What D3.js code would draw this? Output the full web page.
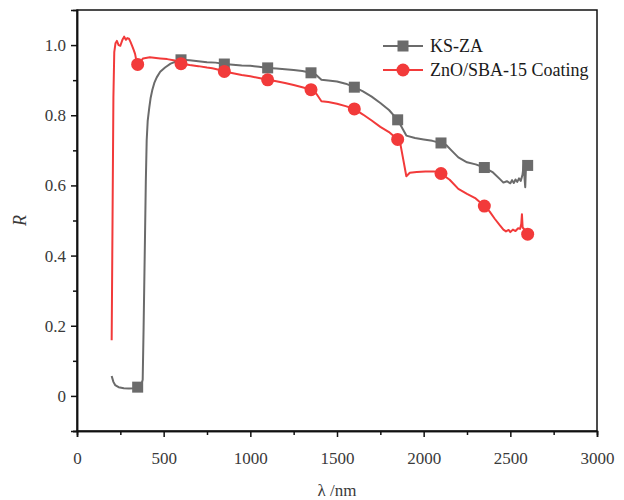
<!DOCTYPE html>
<html>
<head>
<meta charset="utf-8">
<script src="https://cdn.jsdelivr.net/npm/d3@7"></script>
<style>
  html, body { margin: 0; padding: 0; background: #fff; }
  svg { display: block; }
  text { font-family: "Liberation Serif", "DejaVu Serif", serif; }
</style>
</head>
<body>
<svg id="chart" width="624" height="500"></svg>
<script>
// Reflectance spectra (wavelength in nm, reflectance R)
const ksWave = [200,210,220,240,270,300,330,350,370,379,384,392,397,402,408,417,425,434,446,460,480,508,540,575,600,650,700,750,800,850,900,950,1000,1050,1100,1150,1200,1250,1300,1350,1380,1410,1450,1500,1550,1600,1650,1700,1750,1800,1850,1880,1900,1950,2000,2050,2100,2130,2160,2200,2250,2300,2350,2400,2440,2460,2480,2500,2510,2520,2530,2540,2550,2560,2570,2578,2582,2586,2590,2600];
const ksR = [0.057,0.040,0.031,0.025,0.022,0.021,0.022,0.025,0.030,0.046,0.188,0.444,0.610,0.728,0.785,0.822,0.850,0.871,0.892,0.908,0.924,0.936,0.947,0.954,0.958,0.957,0.954,0.951,0.950,0.946,0.944,0.942,0.941,0.938,0.935,0.933,0.931,0.929,0.926,0.921,0.915,0.901,0.899,0.896,0.890,0.880,0.868,0.853,0.835,0.815,0.787,0.760,0.742,0.735,0.731,0.727,0.721,0.715,0.700,0.680,0.666,0.660,0.651,0.637,0.618,0.608,0.612,0.606,0.615,0.607,0.617,0.610,0.620,0.613,0.630,0.660,0.620,0.595,0.650,0.657];

const coatWave = [200,205,210,215,222,230,240,250,262,272,282,290,300,308,318,328,335,340,350,365,381,420,480,520,565,600,650,700,750,780,800,850,900,950,1000,1050,1100,1150,1200,1250,1300,1350,1380,1410,1450,1500,1550,1600,1650,1700,1750,1800,1850,1865,1880,1900,1920,1960,2010,2060,2100,2150,2200,2250,2300,2350,2380,2410,2440,2460,2475,2490,2500,2515,2530,2545,2556,2563,2567,2571,2580,2590,2600];
const coatR = [0.159,0.500,0.850,0.980,1.005,1.012,1.000,0.998,1.015,1.024,1.015,1.020,1.018,1.010,0.998,0.985,0.975,0.962,0.945,0.952,0.962,0.965,0.962,0.960,0.956,0.947,0.943,0.940,0.936,0.934,0.932,0.925,0.920,0.915,0.911,0.906,0.901,0.897,0.892,0.886,0.880,0.873,0.862,0.840,0.838,0.833,0.826,0.818,0.802,0.785,0.767,0.752,0.731,0.720,0.680,0.626,0.636,0.638,0.640,0.640,0.634,0.616,0.590,0.576,0.563,0.541,0.526,0.505,0.486,0.474,0.469,0.473,0.467,0.474,0.470,0.478,0.476,0.490,0.518,0.480,0.475,0.468,0.461];

// Wavelengths carrying a symbol on both curves
const markerWave = [350,600,850,1100,1350,1600,1850,2100,2350,2600];

const seriesNames = ["KS-ZA", "ZnO/SBA-15 Coating"];
const seriesColors = ["#6b6b6b", "#f23a3a"];

const xTicks = [0,500,1000,1500,2000,2500,3000];
const xMinor = [250,750,1250,1750,2250,2750];
const yTicks = [0,0.2,0.4,0.6,0.8,1.0];
const yMinor = [-0.1,0.1,0.3,0.5,0.7,0.9];

const svg = d3.select("#chart");
const m = {left: 77, right: 597, top: 10, bottom: 431};

const x = d3.scaleLinear().domain([0, 3000]).range([m.left, m.right]);
const y = d3.scaleLinear().domain([-0.1, 1.1]).range([m.bottom, m.top]);

const tickColor = "#3a3a3a";

// Frame
svg.append("rect")
  .attr("x", m.left).attr("y", m.top)
  .attr("width", m.right - m.left).attr("height", m.bottom - m.top)
  .attr("fill", "none").attr("stroke", "#111").attr("stroke-width", 1.5);

// Bottom axis
const xAxis = svg.append("g").attr("transform", `translate(0,${m.bottom})`)
  .call(d3.axisBottom(x).tickValues(xTicks).tickSize(6).tickPadding(15).tickFormat(d3.format("d")));
const xAxisMinor = svg.append("g").attr("transform", `translate(0,${m.bottom})`)
  .call(d3.axisBottom(x).tickValues(xMinor).tickSize(4).tickFormat(""));

// Left axis
const yAxis = svg.append("g").attr("transform", `translate(${m.left},0)`)
  .call(d3.axisLeft(y).tickValues(yTicks).tickSize(6).tickPadding(5)
    .tickFormat(d => d === 0 ? "0" : d3.format(".1f")(d)));
const yAxisMinor = svg.append("g").attr("transform", `translate(${m.left},0)`)
  .call(d3.axisLeft(y).tickValues(yMinor).tickSize(4).tickFormat(""));

[xAxis, xAxisMinor, yAxis, yAxisMinor].forEach(g => {
  g.select(".domain").attr("stroke", "#111").attr("stroke-width", 1.5);
  g.selectAll(".tick line").attr("stroke", "#111").attr("stroke-width", 1.5);
  g.selectAll(".tick text").attr("fill", tickColor)
    .style("font-family", '"Liberation Serif", serif').style("font-size", "17px");
});

// Axis titles
svg.append("text")
  .attr("transform", `translate(26,${y(0.5)}) rotate(-90)`)
  .attr("text-anchor", "middle")
  .attr("fill", tickColor)
  .style("font-size", "18px").style("font-style", "italic")
  .text("R");

svg.append("text")
  .attr("x", x(1500)).attr("y", 496)
  .attr("text-anchor", "middle")
  .attr("fill", tickColor)
  .style("font-size", "17px")
  .text("λ /nm");

// Curves
const line = d3.line().x(d => x(d[0])).y(d => y(d[1]));
const series = [
  d3.zip(ksWave, ksR),
  d3.zip(coatWave, coatR)
];

const plot = svg.append("g");
series.forEach((pts, i) => {
  plot.append("path")
    .datum(pts)
    .attr("d", line)
    .attr("fill", "none")
    .attr("stroke", seriesColors[i])
    .attr("stroke-width", 2)
    .attr("stroke-linejoin", "round");
});

// Symbols
const sq = 11;
const markPts = (pts) => pts.filter(d => markerWave.includes(d[0]));
plot.selectAll("rect.ks")
  .data(markPts(series[0]))
  .join("rect").attr("class", "ks")
  .attr("x", d => x(d[0]) - sq / 2).attr("y", d => y(d[1]) - sq / 2)
  .attr("width", sq).attr("height", sq)
  .attr("fill", seriesColors[0]);

plot.selectAll("circle.coat")
  .data(markPts(series[1]))
  .join("circle").attr("class", "coat")
  .attr("cx", d => x(d[0])).attr("cy", d => y(d[1]))
  .attr("r", 6.5)
  .attr("fill", seriesColors[1]);

// Legend
const legend = svg.append("g").attr("transform", "translate(383,46)");
seriesNames.forEach((name, i) => {
  const g = legend.append("g").attr("transform", `translate(0,${i * 24})`);
  g.append("line").attr("x1", 0).attr("x2", 40).attr("y1", 0).attr("y2", 0)
    .attr("stroke", seriesColors[i]).attr("stroke-width", 2);
  if (i === 0) {
    g.append("rect").attr("x", 20 - sq / 2).attr("y", -sq / 2)
      .attr("width", sq).attr("height", sq).attr("fill", seriesColors[i]);
  } else {
    g.append("circle").attr("cx", 20).attr("cy", 0).attr("r", 6.5)
      .attr("fill", seriesColors[i]);
  }
  g.append("text").attr("x", 47).attr("y", 6)
    .attr("fill", "#1a1a1a")
    .style("font-size", "18px")
    .text(name);
});
</script>
</body>
</html>
